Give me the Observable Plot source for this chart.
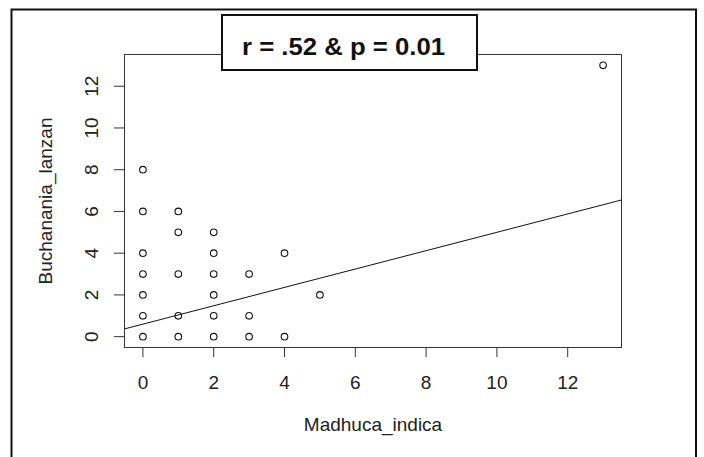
<!DOCTYPE html>
<html>
<head>
<meta charset="utf-8">
<script src="https://cdn.jsdelivr.net/npm/d3@7"></script>
<script src="https://cdn.jsdelivr.net/npm/@observablehq/plot@0.6"></script>
<style>
  html, body { margin: 0; padding: 0; background: white; }
  #chart svg { display: block; }
</style>
</head>
<body>
<div id="chart"></div>
<script>
// Data
const madhuca    = [0,0,0,0,0,0,0, 1,1,1,1,1, 2,2,2,2,2,2, 3,3,3, 4,4, 5, 13];
const buchanania = [8,6,4,3,2,1,0, 6,5,3,1,0, 5,4,3,2,1,0, 3,1,0, 4,0, 2, 13];
const xTicks = [0, 2, 4, 6, 8, 10, 12];
const yTicks = [0, 2, 4, 6, 8, 10, 12];
const fitIntercept = 0.6;
const fitSlope = 0.44;
const xLabel = "Madhuca_indica";
const yLabel = "Buchanania_lanzan";
const titleText = "r = .52 & p = 0.01";

const points = madhuca.map((x, i) => ({x, y: buchanania[i]}));
const domain = [-0.52, 13.52];
const fitLine = domain.map(x => ({x, y: fitIntercept + fitSlope * x}));

const chart = Plot.plot({
  width: 704,
  height: 457,
  marginLeft: 124,
  marginRight: 83,
  marginTop: 54,
  marginBottom: 110,
  x: {domain},
  y: {domain},
  style: {fontFamily: "'Liberation Sans', Arial, sans-serif", fontSize: "19px", color: "#222", background: "white"},
  marks: [
    Plot.frame({stroke: "#333"}),
    Plot.axisX({ticks: xTicks, tickSize: 10, tickPadding: 18, fontSize: 19, label: null, stroke: "#333"}),
    Plot.axisY({ticks: yTicks, tickSize: 10, tickFormat: () => "", label: null, stroke: "#333"}),
    Plot.text(yTicks, {y: d => d, text: d => String(d), frameAnchor: "left", dx: -32.5, rotate: -90, textAnchor: "middle", lineAnchor: "middle", fontSize: 19}),
    Plot.line(fitLine, {x: "x", y: "y", stroke: "#111", strokeWidth: 1}),
    Plot.dot(points, {x: "x", y: "y", r: 3.3, stroke: "#111", strokeWidth: 1.1, fill: "none"}),
    Plot.text([xLabel], {text: d => d, frameAnchor: "bottom", dy: 77, textAnchor: "middle", lineAnchor: "middle", fontSize: 19}),
    Plot.text([yLabel], {text: d => d, frameAnchor: "left", dx: -78.5, rotate: -90, textAnchor: "middle", lineAnchor: "middle", fontSize: 19})
  ]
});

document.getElementById("chart").appendChild(chart);

// Outer frame (left, top, right) and title box
const svg = d3.select(chart);
svg.append("path")
  .attr("d", "M11.5,457V9.5H696V457")
  .attr("fill", "none")
  .attr("stroke", "#111")
  .attr("stroke-width", 2);
svg.append("rect")
  .attr("x", 222).attr("y", 15).attr("width", 255).attr("height", 55)
  .attr("fill", "white").attr("stroke", "#111").attr("stroke-width", 2);
svg.append("text")
  .attr("x", 343.5).attr("y", 55)
  .attr("text-anchor", "middle")
  .attr("font-family", "'Liberation Sans', Arial, sans-serif")
  .attr("font-weight", "bold")
  .attr("font-size", 24)
  .attr("textLength", 203)
  .attr("lengthAdjust", "spacingAndGlyphs")
  .attr("fill", "#111")
  .text(titleText);
</script>
</body>
</html>
